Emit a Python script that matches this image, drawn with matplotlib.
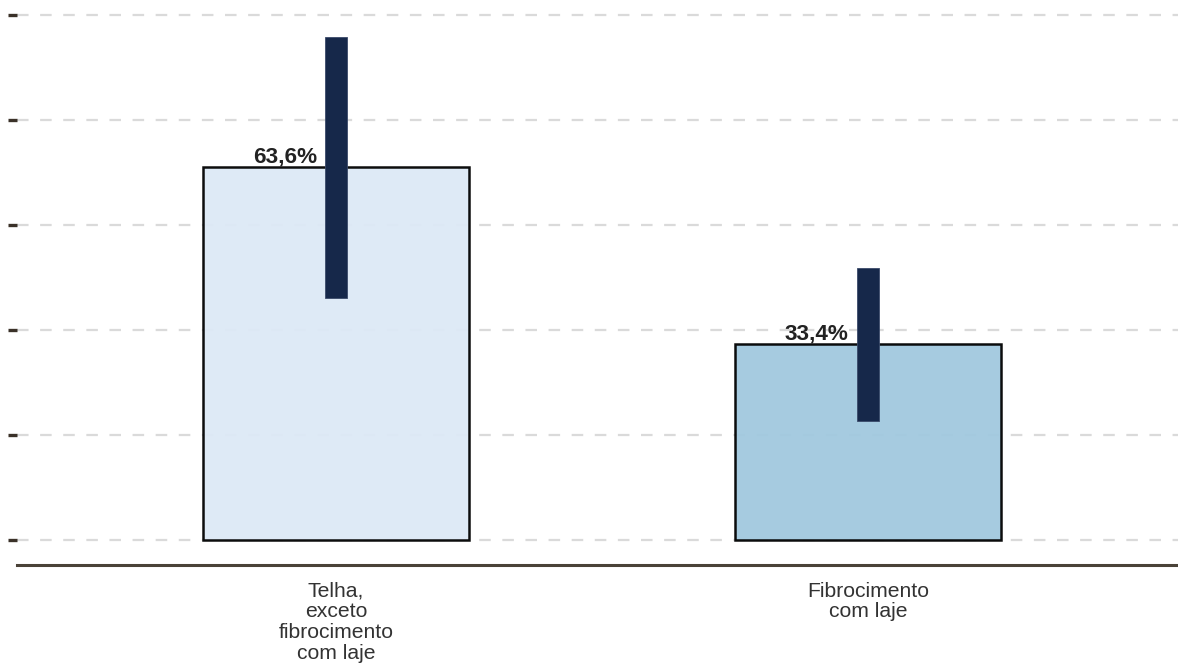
import matplotlib
matplotlib.use("Agg")
import matplotlib.pyplot as plt

categories = ["Telha,\nexceto\nfibrocimento\ncom laje", "Fibrocimento\ncom laje"]
values = [63.6, 33.4]
value_labels = ["63,6%", "33,4%"]
ci_low = [41.3, 20.3]
ci_high = [85.8, 46.4]
yticks = [0, 17.9, 35.8, 53.7, 71.6, 89.5]

bar_colors = ["#dde9f6", "#a1c9df"]
err_color = "#16284a"

plt.rcParams['font.family'] = ['Liberation Sans', 'DejaVu Sans']

W, H = 1178, 666
fig = plt.figure(figsize=(W / 100, H / 100), dpi=100)
ax = fig.add_axes([17 / W, 1 - 565 / H, (W - 17) / W, 565 / H])

x = list(range(len(categories)))
ax.set_xlim(-0.5996, 1.5827)
ax.set_ylim(-4.27, 92.13)

ax.set_yticks(yticks)
ax.set_yticklabels([])
ax.yaxis.grid(True, color="#dadada", linewidth=1.6, linestyle=(0, (5.2, 5.2)), zorder=0)
ax.set_axisbelow(True)
ax.tick_params(axis="y", length=6.5, width=2.4, color="#3a3128", direction="out")

ax.bar(x, values, width=0.5, color=bar_colors, edgecolor="black", linewidth=1.8,
       alpha=0.95, zorder=2)
ax.bar(x, [h - l for h, l in zip(ci_high, ci_low)], bottom=ci_low, width=0.043,
       color=err_color, edgecolor="#3a4a6a", linewidth=0.6, zorder=3)

for xi, v, lab in zip(x, values, value_labels):
    ax.text(xi - 0.096, v + 0.75, lab, ha="center", va="baseline",
            fontsize=16.2, fontweight="bold", color="#222222", zorder=4)

ax.set_xticks(x)
ax.set_xticklabels(categories, fontsize=15.2, color="#333333", linespacing=1.12)
ax.tick_params(axis="x", length=0, pad=12)

for s in ["left", "right", "top"]:
    ax.spines[s].set_visible(False)
ax.spines["bottom"].set_color("#4a4238")
ax.spines["bottom"].set_linewidth(2.2)

fig.savefig("out.png", dpi=100)
